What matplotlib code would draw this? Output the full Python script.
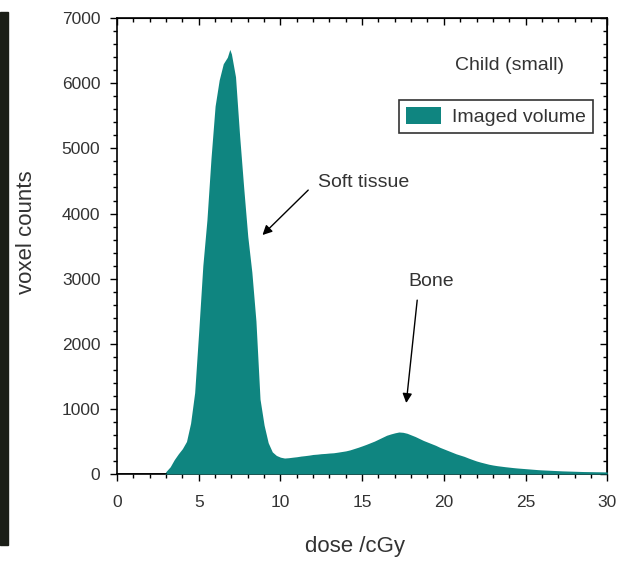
import matplotlib
matplotlib.use("Agg")
import matplotlib.pyplot as plt
from matplotlib.patches import Rectangle
from matplotlib.ticker import MultipleLocator

plt.rcParams['font.family'] = ['Liberation Sans', 'DejaVu Sans']

# dose histogram (cGy, voxel counts)
dose = [0.0, 1.0, 2.0, 2.9, 3.0, 3.25, 3.5, 3.75, 4.0, 4.25, 4.5, 4.75,
        5.0, 5.25, 5.5, 5.75, 6.0, 6.25, 6.5, 6.75, 6.9, 7.0, 7.25, 7.5,
        7.75, 8.0, 8.25, 8.5, 8.75, 9.0, 9.25, 9.5, 9.75, 10.0, 10.25, 10.5,
        10.75, 11.0, 11.25, 11.5, 11.75, 12.0, 12.25, 12.5, 12.75, 13.0,
        13.25, 13.5, 13.75, 14.0, 14.25, 14.5, 14.75, 15.0, 15.25, 15.5,
        15.75, 16.0, 16.25, 16.5, 16.75, 17.0, 17.25, 17.5, 17.75, 18.0,
        18.25, 18.5, 18.75, 19.0, 19.25, 19.5, 19.75, 20.0, 20.25, 20.5,
        20.75, 21.0, 21.25, 21.5, 21.75, 22.0, 22.25, 22.5, 22.75, 23.0,
        23.25, 23.5, 23.75, 24.0, 24.25, 24.5, 24.75, 25.0, 25.25, 25.5,
        25.75, 26.0, 26.25, 26.5, 26.75, 27.0, 27.25, 27.5, 27.75, 28.0,
        28.25, 28.5, 28.75, 29.0, 29.25, 29.5, 29.75, 30.0]
counts = [0, 0, 0, 0, 40, 110, 220, 310, 390, 500, 780, 1250,
          2200, 3200, 3900, 4850, 5650, 6050, 6300, 6400, 6520, 6450, 6100, 5200,
          4400, 3650, 3100, 2350, 1150, 750, 480, 340, 285, 258, 245, 250,
          258, 265, 275, 282, 290, 300, 305, 312, 316, 322,
          326, 335, 345, 355, 370, 390, 410, 432, 455, 480,
          505, 535, 565, 595, 615, 632, 645, 640, 625, 600,
          575, 545, 515, 490, 465, 440, 410, 385, 360, 335,
          310, 290, 270, 245, 222, 200, 182, 166, 150, 138,
          128, 120, 112, 105, 98, 92, 87, 82, 77, 72,
          67, 63, 60, 57, 54, 51, 48, 46, 44, 42,
          40, 38, 37, 36, 35, 34, 33, 32]

teal = '#0f8580'
grey = '#333333'

fig = plt.figure(figsize=(6.26, 5.68), dpi=100)
ax = fig.add_axes([0.187, 0.1655, 0.783, 0.8025])

ax.fill_between(dose, counts, 0, color=teal, lw=0, zorder=3,
                label='Imaged volume')
ax.plot([0, 3.0], [0, 0], color='k', lw=1.2, zorder=4)

ax.set_xlim(0, 30)
ax.set_ylim(0, 7000)
ax.xaxis.set_major_locator(MultipleLocator(5))
ax.xaxis.set_minor_locator(MultipleLocator(1))
ax.yaxis.set_major_locator(MultipleLocator(1000))
ax.yaxis.set_minor_locator(MultipleLocator(200))
ax.tick_params(which='both', direction='out', labelsize=12.5,
               labelcolor=grey, width=1.0)
ax.tick_params(which='major', length=5)
ax.tick_params(which='minor', length=3)
ax.tick_params(axis='x', pad=10)
ax.tick_params(axis='y', pad=7)
for s in ax.spines.values():
    s.set_linewidth(1.2)

# mirrored ticks on top and right
top = ax.secondary_xaxis('top')
top.xaxis.set_major_locator(MultipleLocator(5))
top.xaxis.set_minor_locator(MultipleLocator(1))
top.tick_params(which='both', direction='in', labeltop=False, width=1.0)
top.tick_params(which='major', length=5)
top.tick_params(which='minor', length=3)
right = ax.secondary_yaxis('right')
right.yaxis.set_major_locator(MultipleLocator(1000))
right.yaxis.set_minor_locator(MultipleLocator(200))
right.tick_params(which='both', direction='in', labelright=False, width=1.0)
right.tick_params(which='major', length=5)
right.tick_params(which='minor', length=3)

ax.set_xlabel('dose /cGy', fontsize=16, color=grey, va='center')
ax.set_ylabel('voxel counts', fontsize=16, color=grey, va='center')
ax.xaxis.set_label_coords(0.486, -0.16)
ax.yaxis.set_label_coords(-0.184, 0.53)

ax.text(24.0, 6280, 'Child (small)', fontsize=14, color=grey,
        ha='center', va='center')

leg = ax.legend(loc='upper right', bbox_to_anchor=(0.971, 0.82),
                borderaxespad=0, fancybox=False, edgecolor='k',
                fontsize=14, handlelength=1.8, handleheight=1.0,
                borderpad=0.35, handletextpad=0.6)
leg.get_frame().set_linewidth(1.2)
for t in leg.get_texts():
    t.set_color(grey)

arrow = dict(arrowstyle='-|>', color='k', lw=1.0, mutation_scale=14,
             shrinkA=0, shrinkB=0)
ax.annotate('', xy=(8.9, 3670), xytext=(11.7, 4360), arrowprops=arrow)
ax.text(12.3, 4470, 'Soft tissue', fontsize=14, color=grey,
        ha='left', va='center')
ax.annotate('', xy=(17.7, 1090), xytext=(18.37, 2670), arrowprops=arrow)
ax.text(19.2, 2960, 'Bone', fontsize=14, color=grey,
        ha='center', va='center')

# dark strip at left edge of the scanned figure
fig.patches.append(Rectangle((0, 23 / 568), 8 / 626, 533 / 568,
                             transform=fig.transFigure, color='#1b1e17'))

fig.savefig('out.png', dpi=100)
